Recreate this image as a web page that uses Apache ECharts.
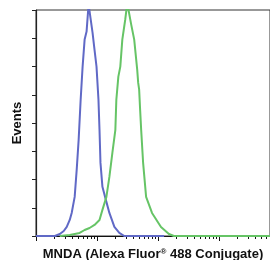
<!DOCTYPE html>
<html>
<head>
<meta charset="utf-8">
<script src="https://cdn.jsdelivr.net/npm/echarts@6/dist/echarts.min.js"></script>
<style>
  html, body { margin: 0; padding: 0; background: #fff; }
  #chart { width: 270px; height: 260px; }
</style>
</head>
<body>
<div id="chart"></div>
<script>
// x is log10 of fluorescence intensity, y is event count
const isotypeX = [0, 0.31, 0.39, 0.455, 0.504, 0.553, 0.585, 0.634, 0.667, 0.699, 0.732, 0.764, 0.797, 0.829, 0.862, 0.894, 0.927, 0.959, 0.992, 1.024, 1.041, 1.057, 1.089, 1.154, 1.203, 1.285, 1.366, 1.447, 2.1]
const isotypeY = [0, 0, 1.8, 4.4, 8, 14.2, 20.4, 34.6, 58.5, 85.1, 120.6, 149.9, 173.8, 180.9, 205, 205, 180, 165, 149.9, 120.6, 94, 64.7, 43.5, 30.2, 20.4, 8, 2.7, 0, 0]

const mndaX = [0.39, 0.553, 0.715, 0.797, 0.878, 0.959, 1.041, 1.089, 1.154, 1.203, 1.252, 1.301, 1.317, 1.35, 1.382, 1.415, 1.463, 1.496, 1.528, 1.561, 1.61, 1.659, 1.675, 1.691, 1.707, 1.724, 1.756, 1.805, 1.902, 2.049, 2.179, 2.26, 3.84]
const mndaY = [0, 0.9, 2.7, 5.3, 7.1, 9.8, 14.2, 23.1, 34.6, 52.3, 73.6, 94, 120.6, 141, 149.9, 173.8, 191.6, 206, 206, 187.1, 173.8, 147.2, 135.7, 129.5, 111.7, 94, 64.7, 34.6, 20.4, 8, 1.8, 0, 0]

// visible part of the log axis (the 10^4 end is cropped off)
const xMax = 3.836
const decades = [0, 1, 2, 3]
const minorTicks = []
decades.forEach(d => {
  for (let k = 2; k <= 9; k++) {
    if (d + Math.log10(k) < xMax) minorTicks.push(d + Math.log10(k))
  }
})

const zip = (xs, ys) => xs.map((x, i) => [x, ys[i]])

const font = '"Liberation Sans Narrow", "Arial Narrow", "Liberation Sans", sans-serif'

const chart = echarts.init(document.getElementById('chart'), null, { renderer: 'canvas' })

chart.setOption({
  animation: false,
  backgroundColor: '#fff',
  grid: {
    left: 36, right: 0, top: 10, bottom: 24,
    outerBoundsMode: 'none', containLabel: false,
    show: true, borderColor: '#333', borderWidth: 1, backgroundColor: '#fff'
  },
  xAxis: [
    {
      type: 'value', min: 0, max: xMax, position: 'bottom',
      axisLine: { lineStyle: { color: '#111', width: 1.2 } },
      axisTick: { length: 5, lineStyle: { color: '#111' }, customValues: decades },
      axisLabel: { show: false },
      splitLine: { show: false },
      name: '{a|MNDA (Alexa Fluor}{s|®}{a| 488 Conjugate)}',
      nameLocation: 'middle',
      nameGap: 12,
      nameTextStyle: {
        rich: {
          a: { fontFamily: font, fontWeight: 'bold', fontSize: 13, color: '#111' },
          s: { fontFamily: font, fontWeight: 'bold', fontSize: 8, color: '#111', verticalAlign: 'top' }
        }
      }
    },
    {
      type: 'value', min: 0, max: xMax, position: 'bottom', offset: 0,
      axisLine: { show: false },
      axisTick: { length: 3, lineStyle: { color: '#111' }, customValues: minorTicks },
      axisLabel: { show: false },
      splitLine: { show: false }
    }
  ],
  yAxis: {
    type: 'value', min: 0, max: 200, interval: 25,
    axisLine: { show: true, lineStyle: { color: '#222', width: 1.2 } },
    axisTick: { show: true, length: 4, lineStyle: { color: '#222' } },
    axisLabel: { show: false },
    splitLine: { show: false },
    name: 'Events',
    nameLocation: 'middle',
    nameGap: 12,
    nameTextStyle: { fontFamily: font, fontWeight: 'bold', fontSize: 13, color: '#111' }
  },
  series: [
    {
      type: 'line', data: zip(isotypeX, isotypeY), showSymbol: false,
      lineStyle: { color: '#6069c6', width: 2 }, z: 3
    },
    {
      type: 'line', data: zip(mndaX, mndaY), showSymbol: false,
      lineStyle: { color: '#66c466', width: 2 }, z: 4
    }
  ]
})
</script>
</body>
</html>
